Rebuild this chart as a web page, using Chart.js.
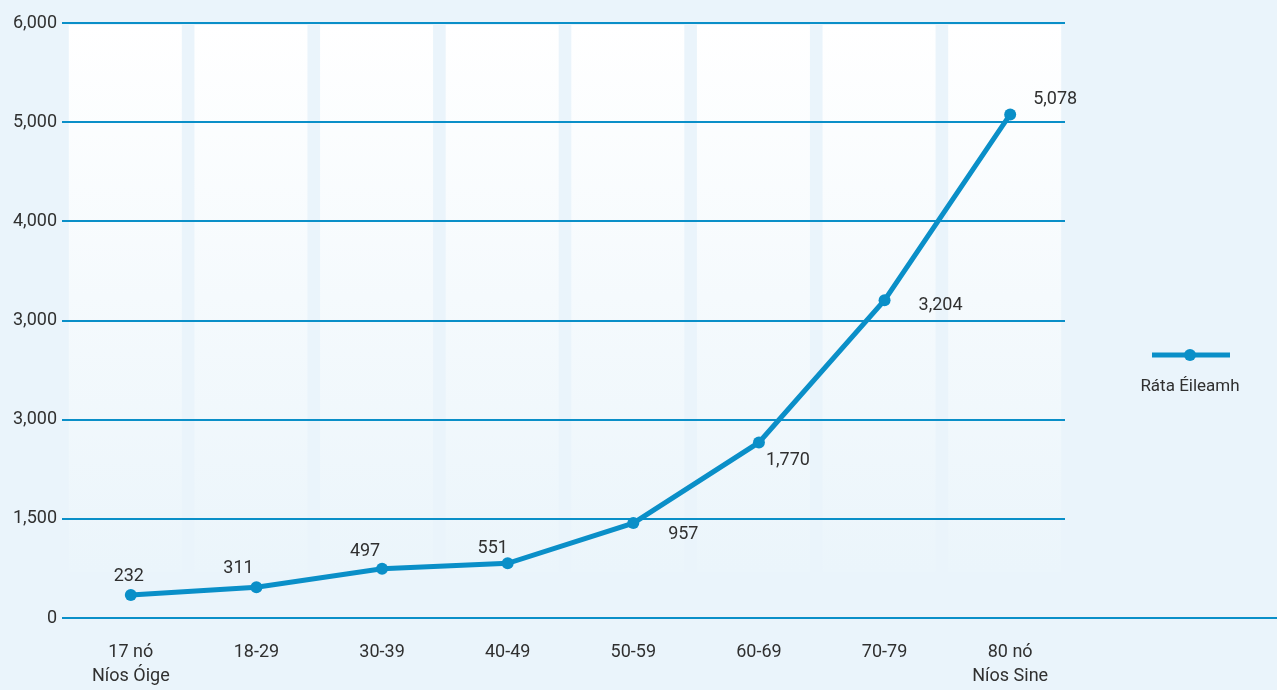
<!DOCTYPE html>
<html>
<head>
<meta charset="utf-8">
<script src="https://cdn.jsdelivr.net/npm/chart.js@4"></script>
<style>
  html, body { margin: 0; padding: 0; background: #eaf4fb; overflow: hidden; }
  #wrap { width: 1277px; height: 690px; position: relative; }
</style>
</head>
<body>
<div id="wrap"><canvas id="lineChart" width="1277" height="690"></canvas></div>
<script>
const ageGroups = [['17 nó', 'Níos Óige'], '18-29', '30-39', '40-49', '50-59', '60-69', '70-79', ['80 nó', 'Níos Sine']];
const claimRate = [232, 311, 497, 551, 957, 1770, 3204, 5078];
// the original's tick labels are printed as-is (two of them are off)
const yTickLabels = ['0', '1,500', '3,000', '3,000', '4,000', '5,000', '6,000'];
const seriesName = 'Ráta Éileamh';

const blue = '#0a8fc8';
const textColor = '#303030';
const bg = '#eaf4fb';
const font = 'Roboto, "DejaVu Sans", sans-serif';

// label offsets around each point [dx, dy]
const labelShift = [[-2, -18], [-18, -19], [-17, -17], [-15, -15], [50, 11], [29, 18], [56, 5], [45, -15]];

const backdrop = {
    id: 'backdrop',
    beforeDraw(chart) {
        const c = chart.ctx;
        const x = chart.scales.x, y = chart.scales.y;
        const top = y.getPixelForValue(6000);
        c.save();
        c.fillStyle = bg;
        c.fillRect(0, 0, chart.width, chart.height);
        const grad = c.createLinearGradient(0, top, 0, 570);
        grad.addColorStop(0, '#ffffff');
        grad.addColorStop(1, '#ebf5fb');
        c.fillStyle = grad;
        claimRate.forEach((v, i) => {
            const px = x.getPixelForValue(i);
            c.fillRect(px - 62, top + 2, 113, 570 - top);
        });
        c.strokeStyle = blue;
        c.lineWidth = 2;
        y.ticks.forEach(t => {
            const py = Math.round(y.getPixelForValue(t.value));
            c.beginPath();
            c.moveTo(62, py);
            c.lineTo(t.value === 0 ? chart.width : 1065, py);
            c.stroke();
        });
        c.restore();
    },
    afterDraw(chart) {
        const c = chart.ctx;
        const meta = chart.getDatasetMeta(0);
        c.save();
        c.fillStyle = textColor;
        c.font = '18px ' + font;
        c.textAlign = 'center';
        c.textBaseline = 'middle';
        meta.data.forEach((pt, i) => {
            c.fillText(claimRate[i].toLocaleString('en-US'), pt.x + labelShift[i][0], pt.y + labelShift[i][1]);
        });
        // legend
        c.strokeStyle = blue;
        c.lineWidth = 5;
        c.beginPath();
        c.moveTo(1152, 355);
        c.lineTo(1230, 355);
        c.stroke();
        c.fillStyle = blue;
        c.beginPath();
        c.arc(1190, 355, 6, 0, Math.PI * 2);
        c.fill();
        c.fillStyle = textColor;
        c.font = '17px ' + font;
        c.fillText(seriesName, 1190, 387);
        c.restore();
    }
};

const ctx = document.getElementById('lineChart').getContext('2d');
const lineChart = new Chart(ctx, {
    type: 'line',
    data: {
        labels: ageGroups,
        datasets: [{
            label: seriesName,
            data: claimRate,
            borderColor: blue,
            backgroundColor: blue,
            borderWidth: 5,
            pointRadius: 6,
            pointBorderWidth: 0,
            pointHoverRadius: 6,
            tension: 0
        }]
    },
    options: {
        responsive: false,
        animation: false,
        devicePixelRatio: 1,
        layout: { padding: { top: 23, right: 204, bottom: 0, left: 0 } },
        plugins: {
            legend: { display: false },
            tooltip: { enabled: false }
        },
        scales: {
            x: {
                offset: true,
                grid: { display: false, drawTicks: false },
                border: { display: false },
                ticks: {
                    color: textColor,
                    padding: 23,
                    maxRotation: 0,
                    autoSkip: false,
                    font: { family: font, size: 18, lineHeight: 1.3 }
                },
                afterFit(scale) { scale.height = 72; }
            },
            y: {
                min: 0,
                max: 6000,
                grid: { display: false, drawTicks: false },
                border: { display: false },
                ticks: {
                    stepSize: 1000,
                    color: textColor,
                    padding: 11,
                    font: { family: font, size: 18 },
                    callback: (v, i) => yTickLabels[i]
                },
                afterFit(scale) { scale.width = 68; }
            }
        }
    },
    plugins: [backdrop]
});
</script>
</body>
</html>
